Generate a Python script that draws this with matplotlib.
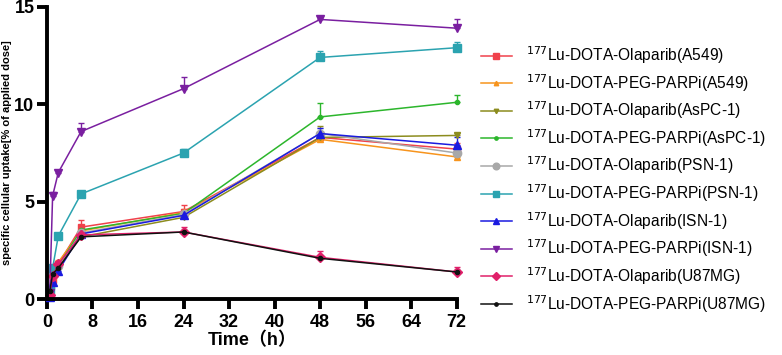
import numpy as np
import matplotlib
matplotlib.use("Agg")
import matplotlib.pyplot as plt
from matplotlib.lines import Line2D

plt.rcParams['font.family'] = ['Liberation Sans', 'Noto Sans CJK SC', 'DejaVu Sans']

# time points (h)
hours = [0.5, 1, 2, 6, 24, 48, 72]

labels = [
    'Olaparib(A549)', 'PEG-PARPi(A549)', 'Olaparib(AsPC-1)', 'PEG-PARPi(AsPC-1)',
    'Olaparib(PSN-1)', 'PEG-PARPi(PSN-1)', 'Olaparib(ISN-1)', 'PEG-PARPi(ISN-1)',
    'Olaparib(U87MG)', 'PEG-PARPi(U87MG)',
]

ola_a549 = [0.2, 1.0, 1.8, 3.7, 4.5, 8.3, 7.7]
peg_a549 = [0.3, 1.2, 1.9, 3.5, 4.45, 8.2, 7.3]
ola_aspc = [0.3, 1.3, 1.7, 3.2, 4.2, 8.3, 8.4]
peg_aspc = [0.4, 1.4, 1.7, 3.55, 4.4, 9.35, 10.1]
ola_psn = [0.6, 1.4, 1.7, 3.4, 4.35, 8.5, 7.5]
peg_psn = [0.5, 1.6, 3.25, 5.4, 7.5, 12.4, 12.9]
ola_isn = [0.1, 0.9, 1.45, 3.35, 4.3, 8.5, 7.9]
peg_isn = [0.3, 5.3, 6.5, 8.6, 10.8, 14.35, 13.9]
ola_u87 = [0.2, 1.2, 1.8, 3.3, 3.45, 2.15, 1.4]
peg_u87 = [0.4, 1.3, 1.6, 3.2, 3.45, 2.1, 1.4]

err_ola_a549 = [0.1, 0.1, 0.1, 0.35, 0.35, 0.2, 0.3]
err_peg_a549 = [0.1, 0.1, 0.1, 0.2, 0.2, 0.3, 0.1]
err_ola_aspc = [0.1, 0.1, 0.1, 0.2, 0.2, 0.6, 0.15]
err_peg_aspc = [0.1, 0.1, 0.1, 0.2, 0.2, 0.7, 0.35]
err_ola_psn = [0.1, 0.1, 0.1, 0.2, 0.2, 0.3, 0.3]
err_peg_psn = [0.1, 0.1, 0.1, 0.15, 0.2, 0.35, 0.3]
err_ola_isn = [0.1, 0.1, 0.1, 0.2, 0.2, 0.3, 0.4]
err_peg_isn = [0.1, 0.2, 0.15, 0.45, 0.6, 0.1, 0.45]
err_ola_u87 = [0.1, 0.1, 0.1, 0.1, 0.25, 0.3, 0.25]
err_peg_u87 = [0.1, 0.1, 0.1, 0.1, 0.1, 0.1, 0.1]

series = [ola_a549, peg_a549, ola_aspc, peg_aspc, ola_psn,
          peg_psn, ola_isn, peg_isn, ola_u87, peg_u87]
errors = [err_ola_a549, err_peg_a549, err_ola_aspc, err_peg_aspc, err_ola_psn,
          err_peg_psn, err_ola_isn, err_peg_isn, err_ola_u87, err_peg_u87]

colors = ['#f0414b', '#f7941d', '#8c8c1e', '#2cb62c', '#a8a8a8',
          '#2ba3b0', '#1a1ae0', '#7a1fa0', '#e0206a', '#111111']
markers = ['s', '^', 'v', 'o', 'o', 's', '^', 'v', 'D', 'o']
msizes = [5, 4, 4, 3, 6, 6, 6, 6, 5, 3]

fig = plt.figure(figsize=(7.82, 3.55), dpi=100)
ax = fig.add_axes([0.060, 0.157, 0.524, 0.824])

handles = []
for vals, err, c, m, ms, lab in zip(series, errors, colors, markers, msizes, labels):
    ax.errorbar(hours, vals, yerr=[np.zeros(len(err)), err], color=c, marker=m,
                markersize=ms, linewidth=1.1, elinewidth=1.0, capsize=2.5,
                capthick=1.0, clip_on=False)
    handles.append(Line2D([], [], color=c, marker=m, markersize=ms * 0.8,
                          linewidth=1.1,
                          label=r'$^{177}$' + 'Lu-DOTA-' + lab))

ax.set_xlim(0, 72)
ax.set_ylim(0, 15)
ax.set_xticks(range(0, 73, 8))
ax.set_yticks([0, 5, 10, 15])
for side in ['top', 'right']:
    ax.spines[side].set_visible(False)
for side in ['left', 'bottom']:
    ax.spines[side].set_linewidth(2.8)
ax.tick_params(width=2.8, length=7, labelsize=13)
ax.tick_params(axis='y', pad=2)
for t in ax.get_xticklabels() + ax.get_yticklabels():
    t.set_fontweight('bold')

ax.set_xlabel('Time（h）', fontsize=13, fontweight='bold', labelpad=1)
ax.set_ylabel('specific cellular uptake[% of applied dose]', fontsize=8,
              fontweight='bold', labelpad=2)

fig.legend(handles=handles, loc='upper left', bbox_to_anchor=(0.605, 0.897),
           frameon=False, fontsize=11.2, labelspacing=0.38, handlelength=2.0,
           handletextpad=0.9, borderpad=0)

fig.savefig('out.png', dpi=100)
